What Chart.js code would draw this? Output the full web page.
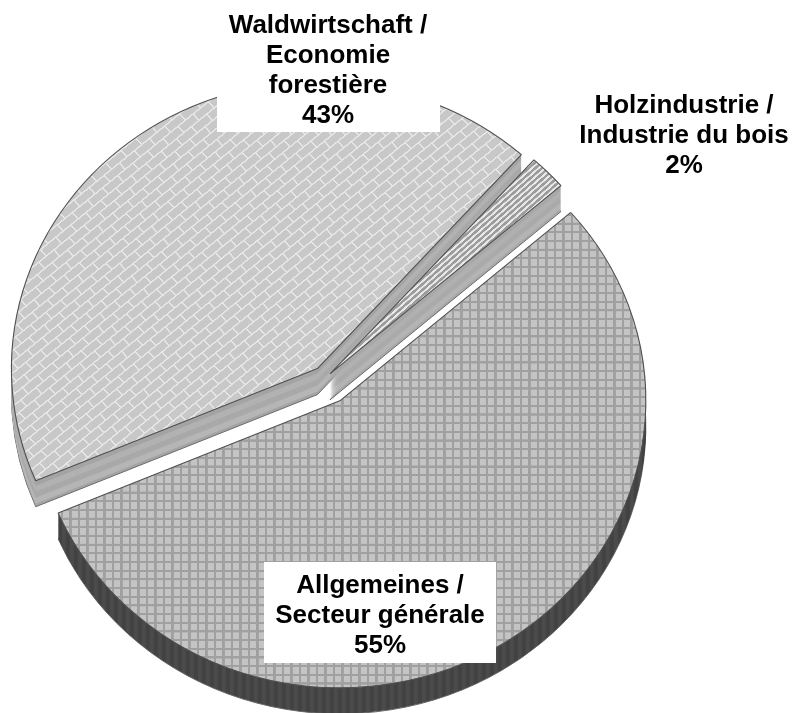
<!DOCTYPE html>
<html><head><meta charset="utf-8">
<style>html,body{margin:0;padding:0;background:#fff}canvas{display:block}</style>
<script src="https://cdn.jsdelivr.net/npm/chart.js@4/dist/chart.umd.min.js"></script>
</head><body>
<canvas id="c" width="796" height="713"></canvas>
<script>
const categories = ['Waldwirtschaft / Economie forestière', 'Holzindustrie / Industrie du bois', 'Allgemeines / Secteur générale'];
const shares = [43, 2, 55];
const labelLines = [
  ['Waldwirtschaft /', 'Economie', 'forestière', '43%'],
  ['Holzindustrie /', 'Industrie du bois', '2%'],
  ['Allgemeines /', 'Secteur générale', '55%']
];
const explode = [13, 7, 28];

function tile(w, h, paint) {
  const t = document.createElement('canvas');
  t.width = w; t.height = h;
  paint(t.getContext('2d'), w, h);
  return t;
}
const ref = document.createElement('canvas').getContext('2d');
function pattern(t, sx, sy, deg) {
  const p = ref.createPattern(t, 'repeat');
  p.setTransform(new DOMMatrix().rotate(deg || 0).scale(sx, sy));
  return p;
}
const brick = pattern(tile(80, 72, (g, w, h) => {
  g.fillStyle = '#c8c8c8'; g.fillRect(0, 0, w, h);
  g.fillStyle = '#e6e6e6';
  g.fillRect(0, 0, w, 6); g.fillRect(0, 36, w, 6);
  g.fillRect(0, 0, 6, 36); g.fillRect(40, 36, 6, 36);
}), 0.25, 0.25, -41);
const stripes = pattern(tile(18, 4, (g, w, h) => {
  g.fillStyle = '#9c9c9c'; g.fillRect(0, 0, w, h);
  g.fillStyle = '#e8e8e8'; g.fillRect(0, 0, 8, h);
}), 0.25, 0.25, 47);
const grid = pattern(tile(34, 37, (g, w, h) => {
  g.fillStyle = '#c4c4c4'; g.fillRect(0, 0, w, h);
  g.fillStyle = '#a0a0a0';
  g.fillRect(0, 0, 9, h); g.fillRect(0, 0, w, 9);
}), 0.25, 0.25, 0);
const darkWall = pattern(tile(8, 4, (g, w, h) => {
  g.fillStyle = '#424242'; g.fillRect(0, 0, w, h);
  g.fillStyle = '#4b4b4b'; g.fillRect(0, 0, 4, h);
}), 1, 1, 0);
const wallFills = [
  ['#a4a4a4', '#b2b2b2', '#a9a9a9', '#b6b6b6'],
  ['#a8a8a8', '#b0b0b0', '#aaaaaa', '#b4b4b4'],
  [darkWall, darkWall, darkWall, darkWall]
];

const piePlugin = {
  id: 'pie3d',
  beforeDatasetDraw(chart, args) {
    const ctx = chart.ctx;
    const meta = chart.getDatasetMeta(args.index);
    const cx = meta.data[0].x, cy = meta.data[0].y;
    const depth = 26;
    ctx.save();
    meta.data.forEach((el, i) => {
      const mid = (el.startAngle + el.endAngle) / 2;
      const dx = Math.cos(mid) * explode[i], dy = Math.sin(mid) * explode[i];
      const place = (drop) => {
        ctx.setTransform(1, 0, 0, 0.938, 325, 378.5 + drop);
        ctx.translate(-cx + dx, -cy + dy);
      };
      for (let d = depth; d >= 1; d--) {
        const c = Object.create(el);
        const edge = d === depth;
        c.options = Object.assign({}, el.options, {
          backgroundColor: wallFills[i][Math.floor(d / 6) % 4],
          borderColor: '#666666',
          borderWidth: edge ? 1 : 0
        });
        place(d);
        c.draw(ctx);
      }
      place(0);
      el.draw(ctx);
    });
    ctx.restore();
    return false;
  },
  afterDraw(chart) {
    const ctx = chart.ctx;
    ctx.save();
    ctx.fillStyle = '#ffffff';
    ctx.fillRect(217, 0, 223, 132);
    ctx.fillRect(264, 562, 232, 101);
    ctx.fillStyle = '#000000';
    ctx.font = 'bold 26px "Liberation Sans", Arial, sans-serif';
    ctx.textAlign = 'center';
    ctx.textBaseline = 'middle';
    const anchors = [[328, 26], [684, 106], [380, 586]];
    labelLines.forEach((lines, i) => {
      lines.forEach((s, j) => ctx.fillText(s, anchors[i][0], anchors[i][1] + j * 30));
    });
    ctx.restore();
  }
};

new Chart(document.getElementById('c'), {
  type: 'pie',
  data: {
    labels: categories,
    datasets: [{
      data: shares,
      backgroundColor: [brick, stripes, grid],
      borderColor: '#505050',
      borderWidth: 1.1
    }]
  },
  options: {
    responsive: false,
    animation: false,
    rotation: 247,
    radius: 306,
    layout: { padding: 0 },
    plugins: { legend: { display: false }, tooltip: { enabled: false } }
  },
  plugins: [piePlugin]
});
</script>
</body></html>
